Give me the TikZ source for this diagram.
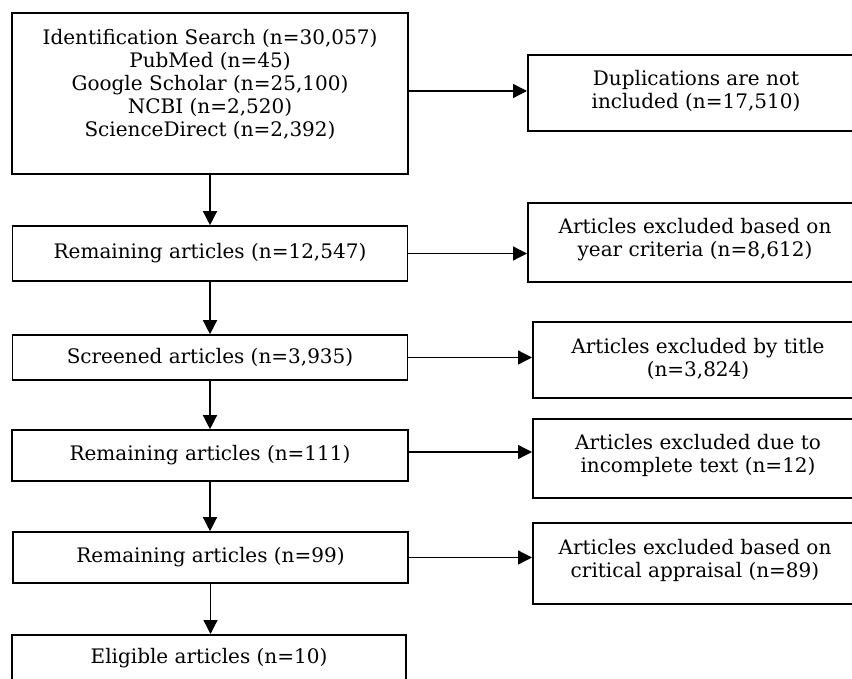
\documentclass[tikz,border=0pt]{standalone}
\usepackage{fontspec}
\setmainfont{DejaVu Serif}
\usetikzlibrary{arrows.meta}
\begin{document}
\begin{tikzpicture}[x=1pt,y=-1pt,
  box/.style={draw=black, line width=1.6pt, rectangle, inner sep=0pt, align=center,
    font=\fontsize{20}{23}\selectfont},
  txt/.style={inner sep=0pt, align=center, font=\fontsize{20}{23}\selectfont},
  arr/.style={line width=1.3pt, -{Triangle[length=14pt,width=14pt]}}]
\useasboundingbox (0,0) rectangle (852,679);
\clip (0,0) rectangle (852,679);
% left column
\node[box, minimum width=396, minimum height=161] (b1) at (210,93.5) {};
\node[txt] (t1) at (210,84) {Identification Search (n=30,057)\\PubMed (n=45)\\Google Scholar (n=25,100)\\NCBI (n=2,520)\\ScienceDirect (n=2,392)};
\node[box, minimum width=395, minimum height=55] (b2) at (210,253.5) {Remaining articles (n=12,547)};
\node[box, minimum width=395, minimum height=45] (b3) at (210,357.5) {Screened articles (n=3,935)};
\node[box, minimum width=396, minimum height=51] (b4) at (210,455.5) {Remaining articles (n=111)};
\node[box, minimum width=395, minimum height=51] (b5) at (210.5,557.5) {Remaining articles (n=99)};
\node[box, minimum width=394, minimum height=100, anchor=north] (b6) at (209,634) {};
\node[txt] (t6) at (209,658) {Eligible articles (n=10)};
% right column
\node[box, minimum width=340, minimum height=76, anchor=north west] (r1) at (527,54) {};
\node[txt] (u1) at (696,91) {Duplications are not\\included (n=17,510)};
\node[box, minimum width=340, minimum height=79, anchor=north west] (r2) at (527,202) {};
\node[txt] (u2) at (695,239.5) {Articles excluded based on\\year criteria (n=8,612)};
\node[box, minimum width=335, minimum height=76, anchor=north west] (r3) at (532,321) {};
\node[txt] (u3) at (698,359) {Articles excluded by title\\(n=3,824)};
\node[box, minimum width=335, minimum height=79, anchor=north west] (r4) at (532,418) {};
\node[txt] (u4) at (698,455.5) {Articles excluded due to\\incomplete text (n=12)};
\node[box, minimum width=335, minimum height=81, anchor=north west] (r5) at (532,522) {};
\node[txt] (u5) at (695,560) {Articles excluded based on\\critical appraisal (n=89)};
% vertical arrows
\draw[arr] (b1.south) -- (b2.north);
\draw[arr] (b2.south) -- (b3.north);
\draw[arr] (b3.south) -- (b4.north);
\draw[arr] (b4.south) -- (b4.south |- b5.north);
\draw[arr] (b5.south) -- (b5.south |- b6.north);
% horizontal arrows
\coordinate (h1) at (b1.east |- 0,91);
\draw[arr] (h1) -- (h1 -| r1.west);
\draw[arr] (b2.east) -- (b2.east -| r2.west);
\draw[arr] (b3.east) -- (b3.east -| r3.west);
\coordinate (h4) at (b4.east |- 0,452);
\draw[arr] (h4) -- (h4 -| r4.west);
\draw[arr] (b5.east) -- (b5.east -| r5.west);
\end{tikzpicture}
\end{document}
